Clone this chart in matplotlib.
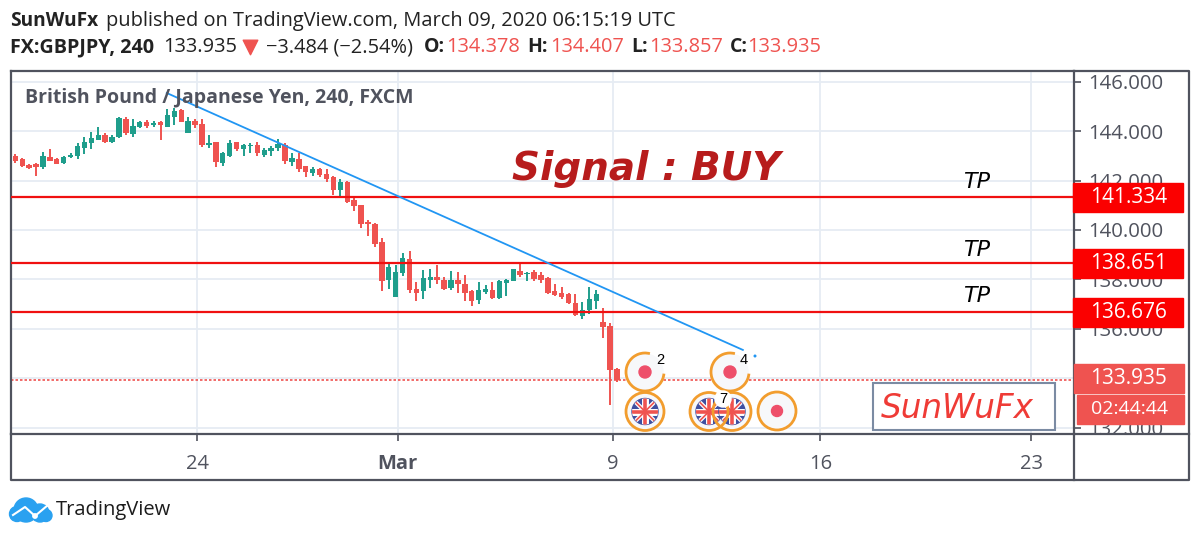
import numpy as np
import matplotlib
matplotlib.use('Agg')
import matplotlib.pyplot as plt
from matplotlib.patches import Circle, Rectangle, Arc

plt.rcParams['font.family'] = ['Open Sans', 'DejaVu Sans']

# 4h candles
opens = [142.99, 142.86, 142.64, 142.66, 142.53, 142.97, 142.86, 142.72, 142.94, 142.99, 143.32, 143.50,
         143.64, 143.86, 143.57, 143.77, 144.48, 143.88, 144.18, 144.35, 144.26, 144.37, 144.18, 144.58,
         144.85, 143.91, 144.42, 144.29, 143.42, 143.57, 142.72, 142.99, 143.57, 143.26, 143.40, 143.45,
         143.03, 143.21, 143.32, 143.45, 142.75, 142.86, 142.59, 142.29, 142.47, 142.26, 142.16, 141.62,
         141.94, 141.21, 141.01, 140.34, 140.24, 139.50, 137.98, 137.28, 138.26, 138.82, 137.63, 137.54,
         137.99, 138.10, 137.97, 137.66, 137.97, 137.83, 137.52, 137.16, 137.50, 137.56, 137.23, 137.87,
         137.93, 138.35, 138.21, 138.30, 138.17, 138.06, 137.52, 137.47, 137.40, 137.05, 136.54, 136.78,
         137.13, 136.26, 136.12, 134.378]
highs = [143.06, 142.93, 142.67, 142.70, 143.17, 143.26, 142.93, 142.99, 143.13, 143.50, 143.76, 143.98,
         144.18, 143.91, 143.84, 144.56, 144.56, 144.48, 144.42, 144.45, 144.42, 144.42, 144.88, 144.95,
         144.88, 144.58, 144.48, 144.48, 143.83, 143.57, 143.17, 143.63, 143.57, 143.48, 143.50, 143.57,
         143.32, 143.40, 143.69, 143.50, 143.10, 143.10, 142.59, 142.53, 142.51, 142.45, 142.18, 142.05,
         141.97, 141.37, 141.01, 140.40, 140.27, 139.66, 138.63, 138.58, 139.07, 139.15, 137.90, 138.37,
         138.44, 138.57, 138.10, 138.35, 138.29, 138.17, 137.59, 137.90, 137.77, 137.90, 137.97, 138.03,
         138.44, 138.68, 138.30, 138.37, 138.30, 138.10, 137.83, 137.70, 137.46, 137.43, 137.09, 137.70,
         137.56, 136.86, 136.24, 134.407]
lows = [142.72, 142.53, 142.45, 142.20, 142.47, 142.79, 142.66, 142.67, 142.91, 142.86, 143.06, 143.26,
        143.64, 143.53, 143.53, 143.72, 143.86, 143.77, 144.11, 144.11, 144.18, 143.64, 144.18, 144.25,
        144.37, 143.91, 144.11, 143.37, 143.33, 142.53, 142.60, 142.94, 143.18, 142.99, 143.13, 142.99,
        142.94, 142.99, 143.21, 142.67, 142.59, 142.35, 142.14, 142.20, 142.14, 141.94, 141.42, 141.32,
        141.08, 140.75, 140.09, 139.77, 139.33, 137.53, 137.60, 137.28, 138.13, 137.46, 137.13, 137.20,
        137.66, 137.81, 137.59, 137.59, 137.46, 137.13, 136.93, 137.00, 137.40, 137.19, 137.19, 137.32,
        137.93, 138.10, 137.93, 137.93, 137.86, 137.40, 137.32, 137.20, 137.00, 136.54, 136.40, 136.62,
        136.80, 135.64, 132.94, 133.857]
closes = [142.79, 142.59, 142.52, 142.53, 142.99, 142.80, 142.67, 142.97, 143.02, 143.40, 143.57, 143.71,
          143.84, 143.56, 143.77, 144.52, 143.91, 144.22, 144.35, 144.22, 144.31, 144.23, 144.64, 144.81,
          144.37, 144.42, 144.26, 143.42, 143.53, 142.75, 143.10, 143.53, 143.26, 143.42, 143.45, 143.10,
          143.24, 143.32, 143.48, 142.79, 142.93, 142.45, 142.35, 142.47, 142.21, 142.07, 141.62, 141.94,
          141.15, 140.97, 140.24, 140.24, 139.43, 137.94, 138.52, 138.31, 138.88, 137.59, 137.47, 138.04,
          138.10, 137.99, 137.63, 137.97, 137.81, 137.47, 137.13, 137.56, 137.63, 137.23, 137.94, 137.99,
          138.44, 138.17, 138.28, 138.03, 137.97, 137.47, 137.36, 137.29, 137.05, 136.55, 136.78, 137.19,
          137.43, 136.08, 134.33, 133.935]

tp_levels = [141.334, 138.651, 136.676]
tp_labels = ['141.334', '138.651', '136.676']
last_price = 133.935
trend_x = [22.9, 106.2]
trend_y = [145.54, 135.15]
y_ticks = [132, 134, 136, 138, 140, 142, 144, 146]
x_ticks = [27.3, 56.3, 87.4, 117.4, 147.9]
x_labels = ['24', 'Mar', '9', '16', '23']

RED = '#ef5350'
GREEN = '#1f9e8c'
GRID = '#e6ecf3'
FRAME = '#50535e'
ORANGE = '#f29d2e'
TXT = '#222222'

fig = plt.figure(figsize=(12, 5.4), dpi=100, facecolor='white')
ax = fig.add_axes([11 / 1200, 1 - 433.5 / 540, (1074 - 11) / 1200, (433.5 - 70.5) / 540])
ax.set_xlim(0.38, 154.08)
ax.set_ylim(131.77, 146.45)

bars = np.arange(1, len(opens) + 1)
o, h, l, c = map(np.array, (opens, highs, lows, closes))
colors = np.where(c >= o, GREEN, RED)
ax.vlines(bars, l, h, colors=colors, linewidth=1.4, zorder=3)
ax.bar(bars, np.abs(c - o), bottom=np.minimum(o, c), width=0.78, color=colors, zorder=3)

ax.set_yticks(y_ticks)
ax.set_yticklabels(['%.3f' % v for v in y_ticks], fontsize=14.7, color=FRAME)
ax.yaxis.tick_right()
ax.set_xticks(x_ticks)
ax.set_xticklabels(x_labels, fontsize=14.5, color=FRAME)
ax.get_xticklabels()[1].set_fontweight('bold')
ax.tick_params(axis='y', length=5, width=1.2, color=FRAME, pad=5)
ax.tick_params(axis='x', length=5, width=1.2, color=FRAME, pad=10)
ax.grid(True, color=GRID, linewidth=1.3)
ax.set_axisbelow(True)
for s in ax.spines.values():
    s.set_color(FRAME)
    s.set_linewidth(1.6)

for lv in tp_levels:
    ax.axhline(lv, color='#f01010', linewidth=1.6, zorder=4)
ax.axhline(last_price, color=RED, linewidth=1.2, linestyle=(0, (1.5, 1.2)), zorder=2)
ax.plot(trend_x, trend_y, color='#2196f3', linewidth=1.3, zorder=5)

# overlay in pixel coordinates for labels and icons
ov = fig.add_axes([0, 0, 1, 1], zorder=10)
ov.set_xlim(0, 1200)
ov.set_ylim(540, 0)
ov.axis('off')
ov.patch.set_alpha(0)

# outer frame
ov.plot([1074, 1189, 1189, 11, 11], [70.5, 70.5, 480, 480, 433.5], color=FRAME, linewidth=1.6)
ov.plot([1074, 1074], [433.5, 480], color=FRAME, linewidth=1.6)
ov.plot([1074, 1189], [433.5, 433.5], color=FRAME, linewidth=1.6)

# header
ov.text(10, 21, 'SunWuFx', fontsize=13.8, fontweight='bold', color=TXT, va='center')
ov.text(106, 21, 'published on TradingView.com, March 09, 2020 06:15:19 UTC', fontsize=14.4, color=TXT, va='center')
ov.text(10, 47, 'FX:GBPJPY, 240', fontsize=14.2, fontweight='bold', color=TXT, va='center')
ov.text(163, 47, '133.935', fontsize=14.4, color=TXT, va='center')
ov.scatter([250], [47], marker='v', s=110, color=RED)
ov.text(266, 47, '\u22123.484 (\u22122.54%)', fontsize=14.4, color=TXT, va='center')
for lab, lx, val, vx in [('O:', 424, '134.378', 446), ('H:', 527, '134.407', 550),
                         ('L:', 631, '133.857', 649), ('C:', 730, '133.935', 747)]:
    ov.text(lx, 47, lab, fontsize=14, fontweight='bold', color=TXT, va='center')
    ov.text(vx, 47, val, fontsize=14.4, color=RED, va='center')

ov.text(25, 98, 'British Pound / Japanese Yen, 240, FXCM', fontsize=14.05, fontweight='bold', color=FRAME, va='center')

ov.text(512, 169, 'Signal : BUY', fontsize=28, fontweight='bold', style='italic', color='#b71c1c',
        family='DejaVu Sans', va='center')
for ty in [182, 250, 296]:
    ov.text(977, ty, 'TP', fontsize=16, style='italic', color='black', ha='center', va='center', family='DejaVu Sans')

# price labels on the right
for lv, txt in zip(tp_levels, tp_labels):
    yy = 540 - ax.transData.transform((0, lv))[1]
    ov.add_patch(Rectangle((1073, yy - 14.5), 110, 29, color='#fb0000', zorder=5))
    ov.text(1129, yy, txt, fontsize=15, color='white', ha='center', va='center', zorder=6)
ov.add_patch(Rectangle((1074, 364), 110, 29, color=RED, zorder=5))
ov.text(1129, 379, '133.935', fontsize=15, color='white', ha='center', va='center', zorder=6)
ov.add_patch(Rectangle((1077, 395), 107, 29, color=RED, zorder=5))
ov.text(1130, 409.5, '02:44:44', fontsize=14, color='white', ha='center', va='center', zorder=6)

# signature box
ov.add_patch(Rectangle((873, 382.5), 182, 47, facecolor='white', edgecolor='#7b8ba3', linewidth=1.5, zorder=5))
ov.text(881, 408, 'SunWuFx', fontsize=23.5, style='italic', color='#ef3b36', va='center', family='DejaVu Sans', zorder=6)


def ring(cx, cy, r=19, gap=False):
    if gap:
        ov.add_patch(Arc((cx, cy), 2 * r, 2 * r, theta1=5, theta2=285, edgecolor=ORANGE, linewidth=2, zorder=7))
    else:
        ov.add_patch(Circle((cx, cy), r, fill=False, edgecolor=ORANGE, linewidth=2, zorder=7))


def flag(cx, cy, r=13):
    clip = Circle((cx, cy), r, transform=ov.transData)
    ov.add_patch(Circle((cx, cy), r, color='#3f4fa0', zorder=6))
    for col, diag, cross in [('white', 3, 5), (RED, 1.2, 2.6)]:
        lines = ov.plot([cx - r, cx + r], [cy - r, cy + r], color=col, linewidth=diag, zorder=6)
        lines += ov.plot([cx - r, cx + r], [cy + r, cy - r], color=col, linewidth=diag, zorder=6)
        lines += ov.plot([cx - r, cx + r], [cy, cy], color=col, linewidth=cross, zorder=6)
        lines += ov.plot([cx, cx], [cy - r, cy + r], color=col, linewidth=cross, zorder=6)
        for it in lines:
            it.set_clip_path(clip)


for cx in [645, 730]:
    ov.add_patch(Circle((cx, 372), 18, color='#f7f8fa', zorder=5))
    ov.add_patch(Circle((cx, 372), 6, color='#ee4f6a', zorder=6))
    ring(cx, 372, gap=True)
for cx in [645, 709, 732]:
    ov.add_patch(Circle((cx, 411.5), 18, color='#f7f8fa', zorder=5))
    flag(cx, 411.5)
    ring(cx, 411.5)
ov.add_patch(Circle((777, 411), 18, color='#f7f8fa', zorder=5))
ov.add_patch(Circle((777, 411), 5.5, color='#ee4f6a', zorder=6))
ring(777, 411)
ov.text(660, 360, '2', fontsize=10.5, color='black', ha='center', va='center', zorder=8, family='Liberation Sans')
ov.text(744, 360, '4', fontsize=10.5, color='black', ha='center', va='center', zorder=8, family='Liberation Sans')
ov.add_patch(Circle((723, 399), 8, color='white', zorder=7.5))
ov.text(723, 399, '7', fontsize=10.5, color='black', ha='center', va='center', zorder=8, family='Liberation Sans')
ov.add_patch(Circle((755, 356), 0.8, color='#2196f3', zorder=5))

# logo
for cx, cy, r in [(17, 514, 7.5), (26, 510, 12), (40, 513, 9), (46, 515.5, 6)]:
    ov.add_patch(Circle((cx, cy), r, color='#2aa1f0', zorder=5))
ov.plot([13, 25, 35, 48], [515, 507, 516, 505], color='white', linewidth=1.5, zorder=6)
ov.add_patch(Circle((35, 516), 2.2, color='white', zorder=6))
ov.text(56, 510, 'TradingView', fontsize=14.5, color='#1c1c1c', va='center')

plt.savefig('out.png', dpi=100)
